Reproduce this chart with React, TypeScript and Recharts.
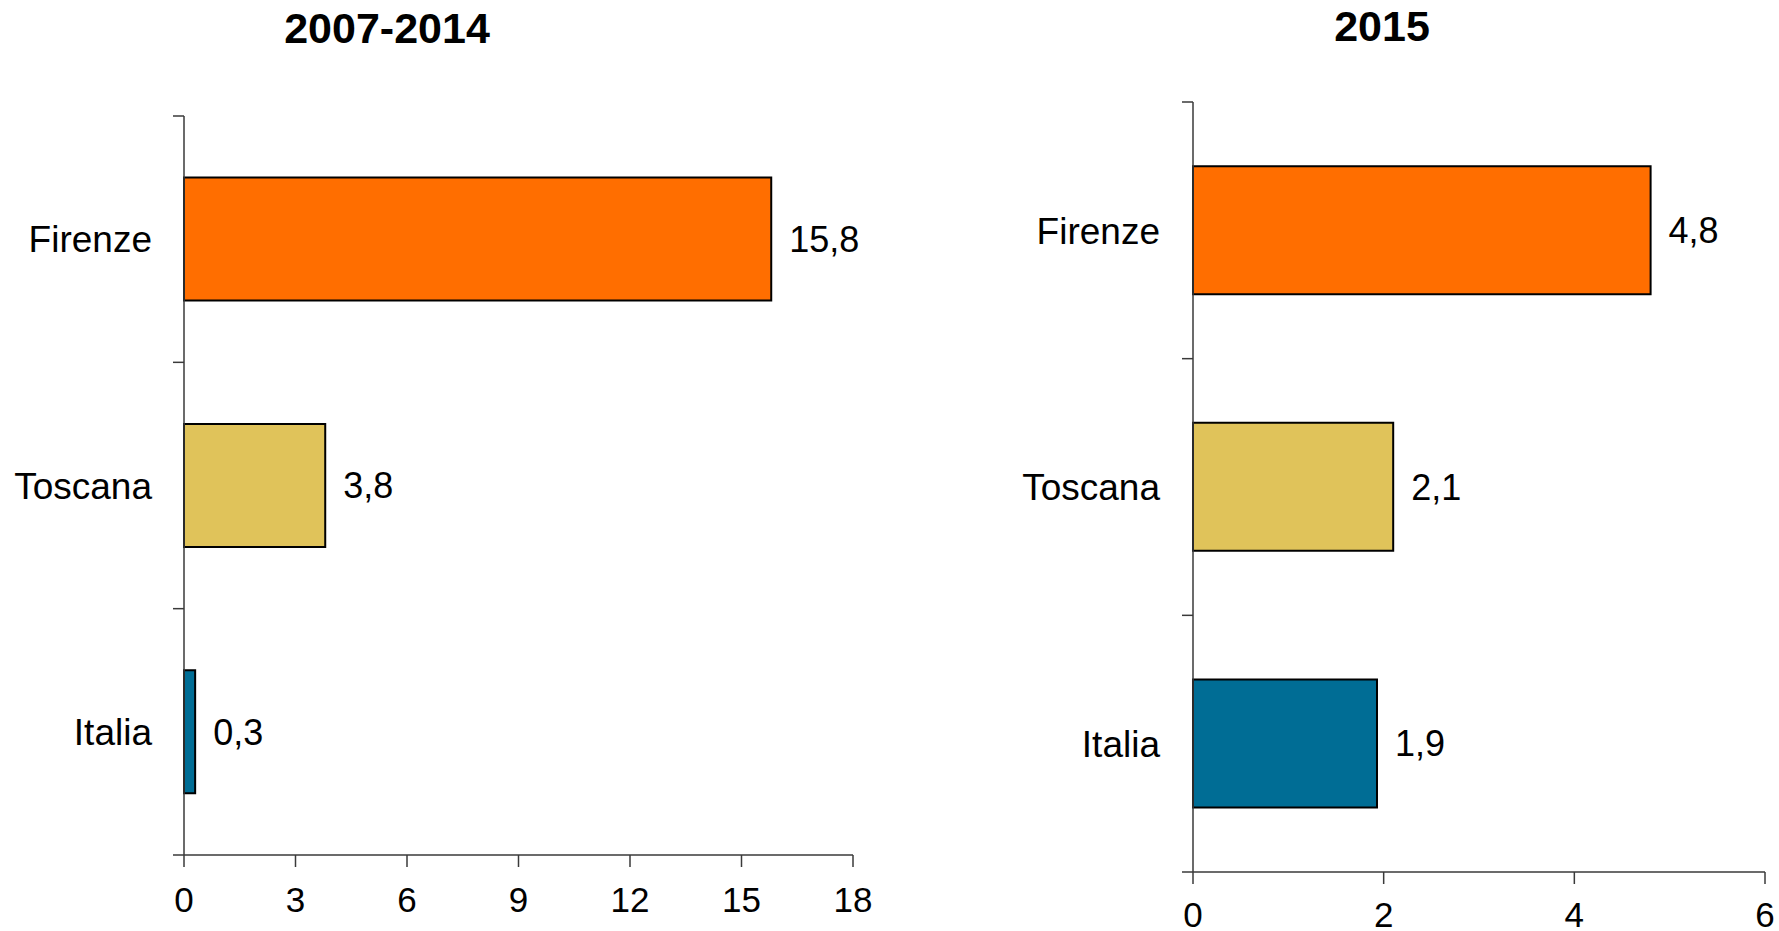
import React from 'react';
import { BarChart, Bar, XAxis, YAxis, Cell, LabelList } from 'recharts';

const categories = ['Firenze', 'Toscana', 'Italia'];
const values20072014 = [15.8, 3.8, 0.3];
const values2015 = [4.8, 2.1, 1.93];
const barColors = ['#FF6E00', '#E0C35A', '#006D95'];
const ticksLeft = [0, 3, 6, 9, 12, 15, 18];
const ticksRight = [0, 2, 4, 6];
const titles = ['2007-2014', '2015'];

const FONT = '"Liberation Sans", Arial, sans-serif';
const AXIS = '#3a3a3a';

const fmt = (v: number) => v.toFixed(1).replace('.', ',');

type PanelProps = {
  values: number[];
  ticks: number[];
  width: number;
  height: number;
  margin: { top: number; right: number; bottom: number; left: number };
  yWidth: number;
  xHeight: number;
  labelGap: number;
  valueGap: number;
  tickMargin: number;
};

function CatTick(props: any) {
  const { x, y, payload, index, bandHalf, labelGap, count } = props;
  const half = payload && typeof payload.offset === 'number' && payload.offset > 0 ? payload.offset : bandHalf;
  return (
    <g>
      <line x1={x - 11} x2={x} y1={y - half} y2={y - half} stroke={AXIS} strokeWidth={1.5} />
      {index === count - 1 && (
        <line x1={x - 11} x2={x} y1={y + half} y2={y + half} stroke={AXIS} strokeWidth={1.5} />
      )}
      <text x={x - labelGap} y={y} dy="0.36em" textAnchor="end" fontSize={37} fontFamily={FONT} fill="#000">
        {payload.value}
      </text>
    </g>
  );
}

function ValueLabel(props: any) {
  const { x, y, width, height, value, valueGap } = props;
  return (
    <text x={x + width + valueGap} y={y + height / 2} dy="0.36em" textAnchor="start" fontSize={36} fontFamily={FONT} fill="#000">
      {fmt(value)}
    </text>
  );
}

function Panel({ values, ticks, width, height, margin, yWidth, xHeight, labelGap, valueGap, tickMargin }: PanelProps) {
  const data = categories.map((c, i) => ({ name: c, value: values[i] }));
  const plotH = height - margin.top - margin.bottom - xHeight;
  const bandHalf = plotH / categories.length / 2;
  return (
    <BarChart
      width={width}
      height={height}
      data={data}
      layout="vertical"
      margin={margin}
      barCategoryGap="25%"
      style={{ overflow: 'visible' }}
    >
      <XAxis
        type="number"
        domain={[ticks[0], ticks[ticks.length - 1]]}
        ticks={ticks}
        height={xHeight}
        tickSize={12}
        tickMargin={tickMargin}
        axisLine={{ stroke: AXIS, strokeWidth: 1.5 }}
        tickLine={{ stroke: AXIS, strokeWidth: 1.5 }}
        tick={{ fontSize: 35, fontFamily: FONT, fill: '#000' }}
        interval={0}
      />
      <YAxis
        type="category"
        dataKey="name"
        width={yWidth}
        tickSize={0}
        tickMargin={0}
        tickLine={false}
        axisLine={{ stroke: AXIS, strokeWidth: 1.5 }}
        tick={<CatTick bandHalf={bandHalf} labelGap={labelGap} count={categories.length} />}
        interval={0}
      />
      <Bar dataKey="value" stroke="#000" strokeWidth={2} isAnimationActive={false}>
        {data.map((d, i) => (
          <Cell key={d.name} fill={barColors[i]} />
        ))}
        <LabelList dataKey="value" content={<ValueLabel valueGap={valueGap} />} />
      </Bar>
    </BarChart>
  );
}

const titleStyle: React.CSSProperties = {
  position: 'absolute',
  width: 400,
  textAlign: 'center',
  fontSize: 43,
  lineHeight: '43px',
  fontWeight: 'bold',
  color: '#000',
};

export default function App() {
  return (
    <div
      style={{
        position: 'absolute',
        left: 0,
        top: 0,
        width: 1779,
        height: 931,
        background: '#fff',
        overflow: 'hidden',
        fontFamily: FONT,
      }}
    >
      <div style={{ position: 'absolute', left: 0, top: 0 }}>
        <Panel
          values={values20072014}
          ticks={ticksLeft}
          width={890}
          height={931}
          margin={{ top: 116, right: 37, bottom: 0, left: 0 }}
          yWidth={184}
          xHeight={76}
          labelGap={32}
          valueGap={18}
          tickMargin={20}
        />
      </div>
      <div style={{ position: 'absolute', left: 890, top: 0 }}>
        <Panel
          values={values2015}
          ticks={ticksRight}
          width={889}
          height={931}
          margin={{ top: 102, right: 14, bottom: 0, left: 0 }}
          yWidth={303}
          xHeight={59}
          labelGap={33}
          valueGap={18}
          tickMargin={18}
        />
      </div>
      <div style={{ ...titleStyle, left: 187, top: 7 }}>{titles[0]}</div>
      <div style={{ ...titleStyle, left: 1182, top: 5 }}>{titles[1]}</div>
    </div>
  );
}
